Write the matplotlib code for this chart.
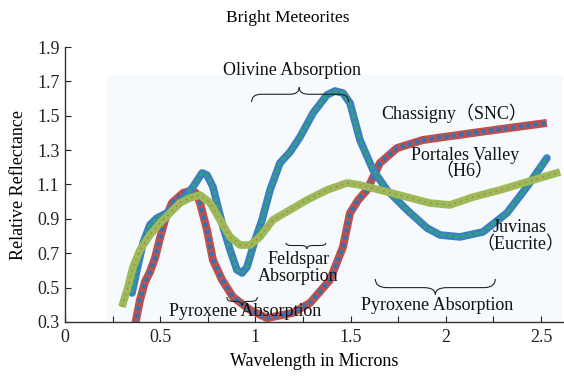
import matplotlib
matplotlib.use("Agg")
import matplotlib.pyplot as plt
from matplotlib.path import Path
from matplotlib.patches import PathPatch, Rectangle

plt.rcParams['font.family'] = ['Liberation Serif', 'Noto Sans CJK SC', 'DejaVu Sans']

# ---------------- data ----------------
chassigny_x = [0.368, 0.394, 0.420, 0.446, 0.473, 0.499, 0.525, 0.562, 0.620, 0.657, 0.688, 0.709,
               0.746, 0.777, 0.825, 0.882, 0.972, 1.061, 1.197, 1.287, 1.392, 1.460, 1.497, 1.540,
               1.586, 1.654, 1.744, 1.880, 2.143, 2.374, 2.531]
chassigny_y = [0.283, 0.428, 0.533, 0.591, 0.673, 0.789, 0.894, 0.993, 1.051, 1.062, 1.051, 0.993,
               0.835, 0.661, 0.545, 0.446, 0.370, 0.323, 0.353, 0.411, 0.545, 0.737, 0.934, 1.010,
               1.068, 1.225, 1.312, 1.359, 1.400, 1.435, 1.458]

juvinas_x = [0.352, 0.378, 0.410, 0.446, 0.483, 0.536, 0.604, 0.672, 0.720, 0.746, 0.777, 0.798,
             0.830, 0.867, 0.903, 0.930, 0.956, 0.998, 1.035, 1.077, 1.129, 1.182, 1.234, 1.303,
             1.376, 1.418, 1.460, 1.497, 1.549, 1.618, 1.691, 1.796, 1.901, 1.970, 2.075, 2.195,
             2.321, 2.426, 2.531]
juvinas_y = [0.469, 0.603, 0.760, 0.865, 0.905, 0.934, 0.993, 1.086, 1.167, 1.155, 1.086, 0.993,
             0.853, 0.719, 0.603, 0.585, 0.620, 0.777, 0.894, 1.068, 1.225, 1.289, 1.376, 1.516,
             1.621, 1.644, 1.632, 1.574, 1.359, 1.184, 1.068, 0.952, 0.847, 0.806, 0.795, 0.824,
             0.934, 1.086, 1.254]

portales_x = [0.299, 0.331, 0.357, 0.394, 0.446, 0.499, 0.551, 0.604, 0.657, 0.709, 0.762, 0.814,
              0.867, 0.919, 0.972, 1.024, 1.092, 1.182, 1.271, 1.376, 1.481, 1.549, 1.654, 1.796,
              1.917, 2.022, 2.143, 2.285, 2.426, 2.600]
portales_y = [0.388, 0.504, 0.620, 0.719, 0.806, 0.876, 0.934, 0.993, 1.022, 1.039, 0.993, 0.894,
              0.795, 0.748, 0.748, 0.795, 0.894, 0.952, 1.010, 1.068, 1.109, 1.097, 1.068, 1.027,
              0.992, 0.981, 1.027, 1.068, 1.115, 1.173]

x_ticks = [0, 0.25, 0.5, 0.75, 1, 1.25, 1.5, 1.75, 2, 2.25, 2.5]
x_tick_labels = ['0', '', '0.5', '', '1', '', '1.5', '', '2', '', '2.5']
y_ticks = [0.3, 0.5, 0.7, 0.9, 1.1, 1.3, 1.5, 1.7, 1.9]
y_tick_labels = ['0.3', '0.5', '0.7', '0.9', '1.1', '1.3', '1.5', '1.7', '1.9']

# ---------------- figure ----------------
fig = plt.figure(figsize=(5.64, 3.79), dpi=100)
ax = fig.add_axes([65/564, 1-322/379, (563-65)/564, (322-47)/379])
ax.set_xlim(0, (563-65)/190.4)
ax.set_ylim(0.3, 1.9)

ax.add_patch(Rectangle((0.22, 0.3), 2.5, 1.44, facecolor='#f7fafc', edgecolor='none', zorder=0))

# Chassigny: red band with blue squares
ax.plot(chassigny_x, chassigny_y, color='#c0504d', lw=5.8, solid_capstyle='butt',
        solid_joinstyle='round', zorder=2)
ax.plot(chassigny_x, chassigny_y, color='#2e75b6', lw=3.0, dashes=(1.0, 0.8), zorder=2.1)
# Juvinas: blue band with green core
ax.plot(juvinas_x, juvinas_y, color='#3c7fc0', lw=5.5, solid_capstyle='round',
        solid_joinstyle='round', zorder=3)
ax.plot(juvinas_x, juvinas_y, color='#2fa37a', lw=2.2, dashes=(1.5, 0.7), zorder=3.1)
# Portales Valley: light green band with red dashes
ax.plot(portales_x, portales_y, color='#9bbb59', lw=5.5, solid_capstyle='butt',
        solid_joinstyle='round', zorder=4)
ax.plot(portales_x, portales_y, color='#d9534f', lw=1.1, dashes=(1.0, 3.0), alpha=0.8, zorder=4.1)

for s in ['top', 'right']:
    ax.spines[s].set_visible(False)
for s in ['left', 'bottom']:
    ax.spines[s].set_color('#333333')
    ax.spines[s].set_linewidth(1.0)

ax.set_xticks(x_ticks)
ax.set_xticklabels(x_tick_labels)
ax.set_yticks(y_ticks)
ax.set_yticklabels(y_tick_labels)
ax.tick_params(direction='in', length=4, width=0.8, labelsize=13, colors='#222222', pad=5)
ax.tick_params(axis='y', pad=4)

ax.set_xlabel('Wavelength in Microns', fontsize=13, labelpad=5)
ax.set_ylabel('Relative Reflectance', fontsize=13, labelpad=7)
fig.text(0.5105, 1-18/379, 'Bright Meteorites', ha='center', va='center', fontsize=12.5)


def brace(x0, x1, y_end, y_mid, y_tip, xm=None, w=0.04):
    if xm is None:
        xm = (x0 + x1) / 2
    verts = [(x0, y_end), (x0, y_mid), (x0 + w, y_mid),
             (xm - w, y_mid),
             (xm, y_mid), (xm, y_tip),
             (xm, y_mid), (xm + w, y_mid),
             (x1 - w, y_mid),
             (x1, y_mid), (x1, y_end)]
    codes = [Path.MOVETO, Path.CURVE3, Path.CURVE3,
             Path.LINETO,
             Path.CURVE3, Path.CURVE3,
             Path.CURVE3, Path.CURVE3,
             Path.LINETO,
             Path.CURVE3, Path.CURVE3]
    ax.add_patch(PathPatch(Path(verts, codes), facecolor='none', edgecolor='#222222',
                           lw=0.8, zorder=6, clip_on=False))


brace(0.98, 1.49, 1.58, 1.625, 1.665, xm=1.23, w=0.05)
brace(0.85, 1.01, 0.445, 0.42, 0.395, xm=0.93, w=0.03)
brace(1.16, 1.37, 0.76, 0.745, 0.725, xm=1.27, w=0.03)
brace(1.63, 2.26, 0.55, 0.50, 0.46, xm=1.945, w=0.06)

txt = dict(fontsize=13, ha='center', va='center', zorder=7, color='#111111')
ax.text(1.19, 1.765, 'Olivine Absorption', **txt)
ax.text(2.045, 1.515, 'Chassigny（SNC）', **txt)
ax.text(2.10, 1.22, 'Portales Valley\n（H6）', linespacing=0.95, **txt)
ax.text(2.39, 0.80, 'Juvinas\n（Eucrite）', linespacing=0.95, **txt)
ax.text(1.225, 0.615, 'Feldspar\nAbsorption', linespacing=0.95, **txt)
ax.text(0.945, 0.36, 'Pyroxene Absorption', **txt)
ax.text(1.955, 0.395, 'Pyroxene Absorption', **txt)

fig.savefig('out.png', dpi=100)
